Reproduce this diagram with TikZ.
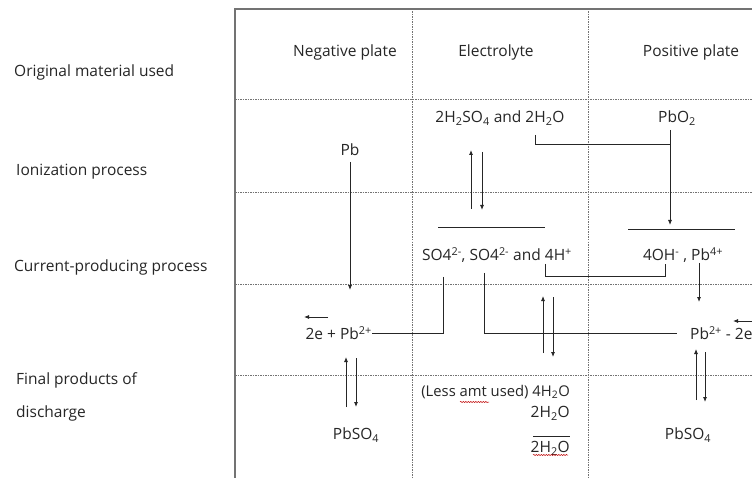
\documentclass[tikz,border=0pt]{standalone}
\usepackage{fontspec}
\setmainfont{Open Sans}
\usetikzlibrary{arrows.meta,decorations.pathmorphing}
\tikzset{
 lbl/.style={font=\fontsize{15.5}{18}\selectfont, text=black!85, inner sep=0pt},
 gridline/.style={draw=black!55, line width=0.7pt, dash pattern=on 1.5pt off 1pt},
 frameline/.style={draw=black!55, line width=1.3pt},
 conn/.style={draw=black!85, line width=0.8pt},
 arr/.style={conn, -{Latex[length=5pt,width=4pt]}},
 wavy/.style={draw=red!75!black, line width=0.5pt, decorate, decoration={snake, amplitude=0.6pt, segment length=2.5pt}}
}
\begin{document}
\begin{tikzpicture}[x=1pt,y=-1pt]
\useasboundingbox[fill=white] (0,0) rectangle (752,478);
% grid
\foreach \yy in {99,192,284,375} \draw[gridline] (235,\yy) -- (752,\yy);
\foreach \xx in {412,588} \draw[gridline] (\xx,9) -- (\xx,478);
\draw[frameline] (752,9) -- (235,9) -- (235,478);
% row labels
\node[lbl, anchor=west] (r1) at (14,72) {Original material used};
\node[lbl, anchor=west] (r2) at (16,172) {Ionization process};
\node[lbl, anchor=west] (r3) at (14,267) {Current-producing process};
\node[lbl, anchor=west] (r4a) at (16,380) {Final products of};
\node[lbl, anchor=west] (r4b) at (16,413) {discharge};
% headers
\node[lbl] (hneg) at (345,52) {Negative plate};
\node[lbl] (hel) at (496,52) {Electrolyte};
\node[lbl] (hpos) at (691,52) {Positive plate};
% row 2
\node[lbl] (h2so4) at (500,118) {2H\textsubscript{2}SO\textsubscript{4} and 2H\textsubscript{2}O};
\node[lbl] (pbo2) at (677,118) {PbO\textsubscript{2}};
\node[lbl] (pb) at (350,150) {Pb};
% row 3
\node[lbl] (so4) at (497,255) {SO4\textsuperscript{2-}, SO4\textsuperscript{2-} and 4H\textsuperscript{+}};
\node[lbl] (oh) at (683,255) {4OH\textsuperscript{-} , Pb\textsuperscript{4+}};
% row 4
\node[lbl, anchor=east] (epb) at (372,333) {2e + Pb\textsuperscript{2+}};
\node[lbl, anchor=west] (pbe) at (690,333) {Pb\textsuperscript{2+} - 2e};
% row 5
\node[lbl] (pbso4n) at (356,435) {PbSO\textsubscript{4}};
\node[lbl] (pbso4p) at (688,435) {PbSO\textsubscript{4}};
\node[lbl, font=\fontsize{14.8}{18}\selectfont, anchor=east] (less) at (570,392) {(Less amt used) 4H\textsubscript{2}O};
\node[lbl, anchor=east] (w1) at (570,413) {2H\textsubscript{2}O};
\node[lbl, anchor=east] (w2) at (570,448) {2H\textsubscript{2}O};
% coordinates
\coordinate (a1) at (535,135); \coordinate (a2) at (670,144);
\coordinate (b1) at (670,130); \coordinate (b2) at (670,225);
\coordinate (c1) at (350,162); \coordinate (c2) at (350,290);
\coordinate (d1) at (471,209); \coordinate (d2) at (471,150);
\coordinate (d3) at (482,152); \coordinate (d4) at (482,210);
\coordinate (e1) at (438,227); \coordinate (e2) at (545,227);
\coordinate (f1) at (628,229); \coordinate (f2) at (735,229);
\coordinate (g1) at (545,264); \coordinate (g2) at (665,276); \coordinate (g3) at (665,264);
\coordinate (h1) at (443,277);
\coordinate (i1) at (484,273); \coordinate (i2) at (677,333);
\coordinate (j1) at (328,317); \coordinate (j2) at (304,317);
\coordinate (k1) at (752,321); \coordinate (k2) at (733,321);
\coordinate (l1) at (699,263); \coordinate (l2) at (699,302);
\coordinate (m1) at (543,353); \coordinate (m2) at (543,296);
\coordinate (m3) at (553,297); \coordinate (m4) at (553,357);
\coordinate (n1) at (346,407); \coordinate (n2) at (346,357);
\coordinate (n3) at (356,358); \coordinate (n4) at (356,407);
\coordinate (p1) at (696,400); \coordinate (p2) at (696,349);
\coordinate (p3) at (705,352); \coordinate (p4) at (705,402);
\coordinate (q1) at (533,436); \coordinate (q2) at (570,436);
% connectors
\draw[conn] (a1) |- (a2);
\draw[arr] (b1) -- (b2);
\draw[arr] (c1) -- (c2);
\draw[arr] (d1) -- (d2);
\draw[arr] (d3) -- (d4);
\draw[conn] (e1) -- (e2);
\draw[conn] (f1) -- (f2);
\draw[conn] (g1) |- (g2) -- (g3);
\draw[conn] (h1) |- (epb.east);
\draw[conn] (i1) |- (i2);
\draw[arr] (j1) -- (j2);
\draw[arr] (k1) -- (k2);
\draw[arr] (l1) -- (l2);
\draw[arr] (m1) -- (m2);
\draw[arr] (m3) -- (m4);
\draw[arr] (n1) -- (n2);
\draw[arr] (n3) -- (n4);
\draw[arr] (p1) -- (p2);
\draw[arr] (p3) -- (p4);
\draw[conn] (q1) -- (q2);
% spell-check marks
\coordinate (s1) at (460,402); \coordinate (s2) at (489,402);
\coordinate (s3) at (533,455); \coordinate (s4) at (568,455);
\draw[wavy] (s1) -- (s2);
\draw[wavy] (s3) -- (s4);
\end{tikzpicture}
\end{document}
